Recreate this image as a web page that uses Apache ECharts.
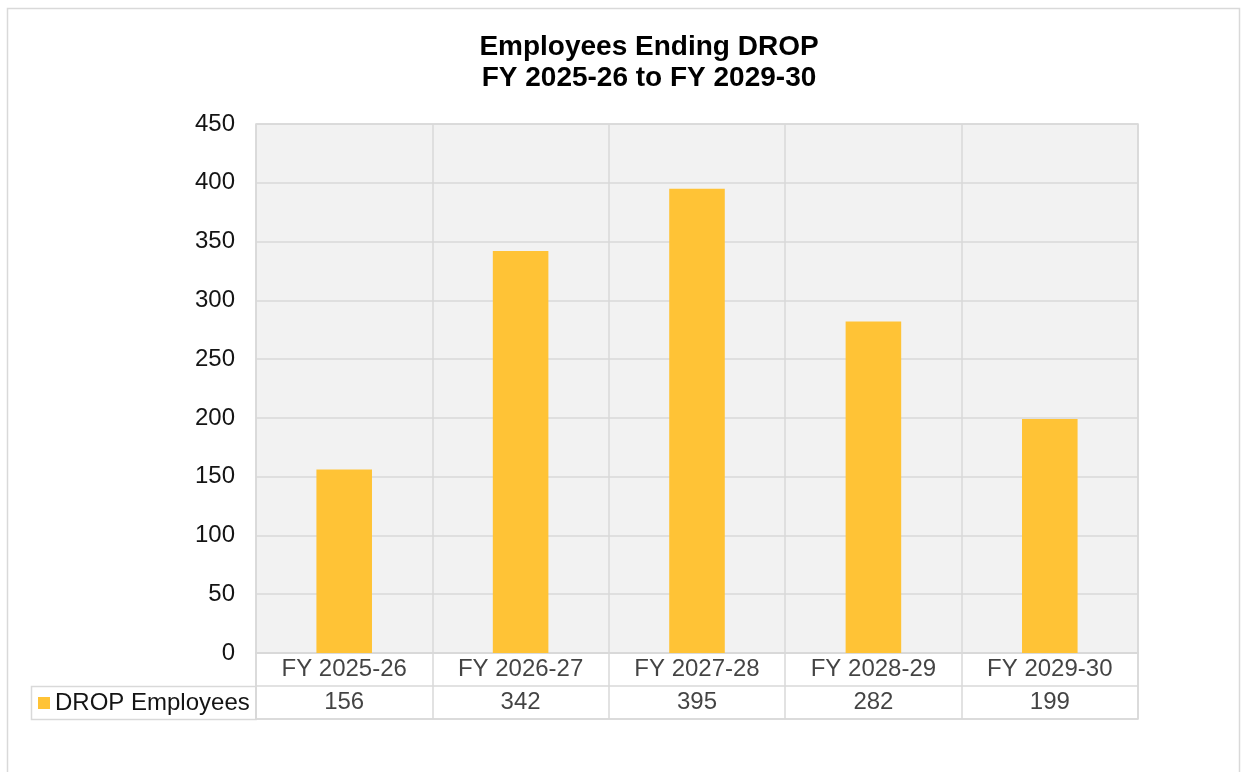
<!DOCTYPE html>
<html>
<head>
<meta charset="utf-8">
<script src="https://cdn.jsdelivr.net/npm/echarts@6/dist/echarts.min.js"></script>
<style>
  html, body { margin: 0; padding: 0; background: #fff; }
  #main { width: 1243px; height: 772px; }
</style>
</head>
<body>
<div id="main"></div>
<script>
// chart data
const categories = ["FY 2025-26", "FY 2026-27", "FY 2027-28", "FY 2028-29", "FY 2029-30"];
const dropEmployees = [156, 342, 395, 282, 199];
const seriesName = "DROP Employees";
const tableRows = ["category", "value"];

const gridLine = "#d9d9d9";
const textColor = "#141414";
const barColor = "#FFC336";
const font = "Liberation Sans, Arial, sans-serif";

// cells of the data table under the plot
const tableCells = [];
categories.forEach((c, i) => {
  tableCells.push([i, "category", c]);
  tableCells.push([i, "value", String(dropEmployees[i])]);
});

const chart = echarts.init(document.getElementById("main"));

const option = {
  animation: false,
  textStyle: { fontFamily: font },
  title: {
    text: "Employees Ending DROP\nFY 2025-26 to FY 2029-30",
    left: 644,
    top: 27,
    textAlign: "center",
    textStyle: {
      fontFamily: font,
      fontSize: 28,
      fontWeight: "bold",
      color: "#000",
      lineHeight: 31,
    },
  },
  legend: {
    data: [seriesName],
    left: 33,
    top: 686,
    icon: "rect",
    itemWidth: 12,
    itemHeight: 12,
    itemGap: 6,
    textStyle: { fontFamily: font, fontSize: 24, color: textColor, padding: [0, 0, 0, 0] },
  },
  graphic: [
    {
      type: "rect",
      silent: true,
      shape: { x: 7.5, y: 8.5, width: 1232, height: 790 },
      style: { fill: "none", stroke: gridLine, lineWidth: 1.5 },
    },
    {
      type: "rect",
      silent: true,
      shape: { x: 31.5, y: 686.5, width: 224.5, height: 33 },
      style: { fill: "none", stroke: gridLine, lineWidth: 1.5 },
    },
  ],
  grid: [
    {
      left: 256,
      right: 105,
      top: 124,
      bottom: 119,
      show: true,
      backgroundColor: "#f2f2f2",
      borderColor: gridLine,
      borderWidth: 1.5,
    },
    {
      left: 256,
      right: 105,
      top: 653,
      height: 66,
      show: true,
      backgroundColor: "#fff",
      borderColor: gridLine,
      borderWidth: 1.5,
    },
  ],
  xAxis: [
    {
      type: "category",
      gridIndex: 0,
      data: categories,
      axisLine: { lineStyle: { color: gridLine, width: 1.5 } },
      axisTick: { show: false },
      axisLabel: { show: false },
      splitLine: { show: true, lineStyle: { color: gridLine, width: 1.5 } },
    },
    {
      type: "category",
      gridIndex: 1,
      data: categories,
      axisLine: { show: false },
      axisTick: { show: false },
      axisLabel: { show: false },
      splitLine: { show: true, lineStyle: { color: gridLine, width: 1.5 } },
    },
  ],
  yAxis: [
    {
      type: "value",
      gridIndex: 0,
      min: 0,
      max: 450,
      interval: 50,
      axisLine: { show: false },
      axisTick: { show: false },
      axisLabel: { fontSize: 24, color: textColor, margin: 21, fontFamily: font },
      splitLine: { show: true, lineStyle: { color: gridLine, width: 1.5 } },
    },
    {
      type: "category",
      gridIndex: 1,
      data: tableRows,
      inverse: true,
      axisLine: { show: false },
      axisTick: { show: false },
      axisLabel: { show: false },
      splitLine: { show: true, lineStyle: { color: gridLine, width: 1.5 } },
    },
  ],
  series: [
    {
      name: seriesName,
      type: "bar",
      xAxisIndex: 0,
      yAxisIndex: 0,
      data: dropEmployees,
      barWidth: "31.5%",
      itemStyle: { color: barColor },
    },
    {
      name: "table",
      type: "scatter",
      xAxisIndex: 1,
      yAxisIndex: 1,
      data: tableCells,
      symbolSize: 1,
      itemStyle: { color: "rgba(0,0,0,0)" },
      silent: true,
      label: {
        show: true,
        position: "inside",
        formatter: (p) => p.data[2],
        fontSize: 24,
        fontFamily: font,
        color: textColor,
      },
    },
  ],
};

chart.setOption(option);
</script>
</body>
</html>
